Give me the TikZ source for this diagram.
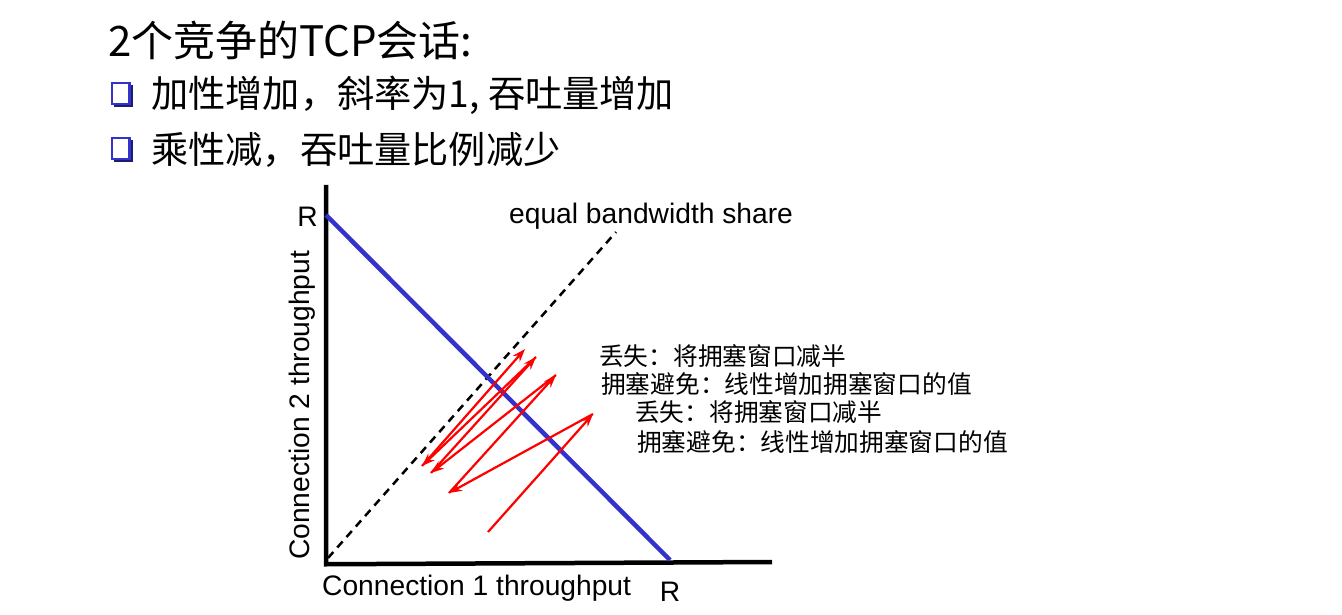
\documentclass[tikz,border=0pt]{standalone}
\usepackage{fontspec}
\setmainfont{Liberation Sans}
\newfontfamily\cjk{Noto Sans CJK SC}
\usetikzlibrary{arrows.meta}
\definecolor{bluevio}{RGB}{51,51,204}
\begin{document}
\begin{tikzpicture}[x=1pt,y=-1pt,
  titletext/.style={anchor=west,inner sep=0pt,font=\cjk\fontsize{42}{48}\selectfont},
  bullettext/.style={anchor=west,inner sep=0pt,font=\cjk\fontsize{37.2}{42}\selectfont},
  notetext/.style={anchor=west,inner sep=0pt,font=\cjk\fontsize{24.7}{28}\selectfont},
  axistext/.style={inner sep=0pt,font=\fontsize{28.2}{32}\selectfont},
  axisline/.style={line width=4.5pt},
  redarrow/.style={red,line width=2.2pt,-{Stealth[length=13pt,width=9pt]}},
]
\useasboundingbox (0,0) rectangle (1342,615);
% title and bullets
\node[titletext] (title) at (108,40) {2个竞争的TCP会话:};
\foreach \yy/\nm in {95/b1,150/b2}{
  \fill[bluevio!55!black] (114,\yy-10) rectangle (133,\yy+12);
  \draw[bluevio,line width=2.8pt,fill=white] (112,\yy-12) rectangle (129.5,\yy+9);
}
\node[bullettext] (t1) at (151,95) {加性增加，斜率为1, 吞吐量增加};
\node[bullettext] (t2) at (151,150) {乘性减，吞吐量比例减少};
% axes
\coordinate (o) at (326,562);
\coordinate (ytop) at (326,185);
\coordinate (xend) at (772,562);
\draw[axisline] (ytop) -- (326,564.25) -- (xend);
% equal bandwidth share
\coordinate (d0) at (328,558);
\coordinate (d1) at (616,232);
\draw[black,line width=2.5pt,dash pattern=on 8pt off 6pt] (d0) -- (d1);
% full utilisation line
\coordinate (f0) at (326,215);
\coordinate (f1) at (670,560);
\draw[bluevio,line width=4.5pt] (f0) -- (f1);
% labels
\node[axistext,anchor=east] (ry) at (318,217) {R};
\node[axistext] (rx) at (670,592) {R};
\node[axistext,anchor=west] (cx) at (322,588) {Connection 1 throughput};
\node[axistext,anchor=west,rotate=90] (cy) at (302,560) {Connection 2 throughput};
\node[axistext,anchor=west] (eq) at (509,216) {equal bandwidth share};
% arrows
\coordinate (p0) at (488,532);
\coordinate (p1) at (593,414);
\coordinate (p2) at (449,493);
\coordinate (p3) at (556,375);
\coordinate (p4) at (431,473);
\coordinate (p5) at (536,357);
\coordinate (p6) at (422,466);
\coordinate (p7) at (525,349);
\draw[redarrow] (p0) -- (p1);
\draw[redarrow] (p1) -- (p2);
\draw[redarrow] (p2) -- (p3);
\draw[redarrow] (p3) -- (p4);
\draw[redarrow] (p4) -- (p5);
\draw[redarrow] (p5) -- (p6);
\draw[redarrow] (p6) -- (p7);
% notes
\node[notetext] (n1) at (599,356) {丢失：将拥塞窗口减半};
\node[notetext] (n2) at (601,384) {拥塞避免：线性增加拥塞窗口的值};
\node[notetext] (n3) at (635,412) {丢失：将拥塞窗口减半};
\node[notetext] (n4) at (637,442) {拥塞避免：线性增加拥塞窗口的值};
\end{tikzpicture}
\end{document}
